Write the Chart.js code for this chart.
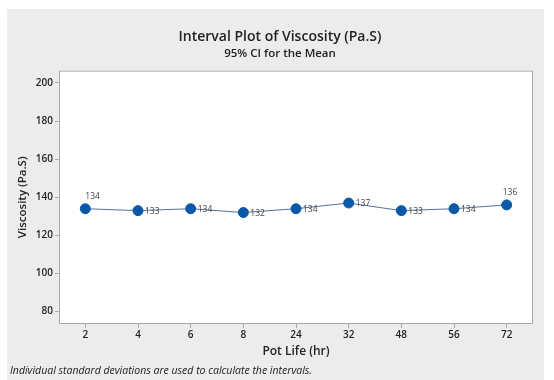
<body style="margin:0;background:#fff">
  <canvas id="c" width="554" height="380"></canvas>
  <script src="https://cdn.jsdelivr.net/npm/chart.js"></script>
  <script>
    const potLife = ['2', '4', '6', '8', '24', '32', '48', '56', '72'];
    const viscosity = [134, 133, 134, 132, 134, 137, 133, 134, 136];
    const yTicks = [80, 100, 120, 140, 160, 180, 200];

    const FONT = "'Open Sans', 'Noto Sans', sans-serif";

    const backdrop = {
      id: 'backdrop',
      beforeDraw(chart) {
        const { ctx, chartArea: a } = chart;
        ctx.save();
        ctx.fillStyle = '#fff';
        ctx.fillRect(0, 0, chart.width, chart.height);
        ctx.fillStyle = '#ececec';
        ctx.fillRect(7, 9, 537, 371);
        ctx.fillStyle = '#fff';
        ctx.fillRect(a.left, a.top, a.width, a.height);
        ctx.strokeStyle = '#a9a9a9';
        ctx.lineWidth = 1;
        ctx.strokeRect(a.left + 0.5, a.top + 0.5, a.width - 1, a.height - 1);
        ctx.restore();
      },
      afterDraw(chart) {
        const { ctx } = chart;
        ctx.save();
        ctx.font = `italic 10.5px ${FONT}`;
        ctx.fillStyle = '#222';
        ctx.textBaseline = 'middle';
        ctx.fillText('Individual standard deviations are used to calculate the intervals.', 10, 371);
        ctx.restore();
      }
    };

    // value labels: first and last sit above the point, the rest to the right
    const valueLabels = {
      id: 'valueLabels',
      afterDatasetsDraw(chart) {
        const { ctx } = chart;
        const pts = chart.getDatasetMeta(0).data;
        ctx.save();
        ctx.font = `8.5px ${FONT}`;
        ctx.fillStyle = '#444';
        ctx.textBaseline = 'middle';
        ctx.textAlign = 'left';
        pts.forEach((p, i) => {
          const txt = String(viscosity[i]);
          if (i === 0 || i === pts.length - 1)
            ctx.fillText(txt, p.x - (i === 0 ? 0 : 4), p.y - 12);
          else
            ctx.fillText(txt, p.x + 7, p.y + 1);
        });
        ctx.restore();
      }
    };

    new Chart(document.getElementById('c'), {
      type: 'line',
      data: {
        labels: potLife,
        datasets: [{
          data: viscosity,
          borderColor: '#52739a',
          borderWidth: 1,
          pointBackgroundColor: '#0b58a8',
          pointBorderColor: '#0b58a8',
          pointRadius: 5,
          tension: 0,
          fill: false,
        }]
      },
      plugins: [backdrop, valueLabels],
      options: {
        responsive: false,
        animation: false,
        layout: { padding: { top: 20, left: 27, right: 21, bottom: 18 } },
        plugins: {
          legend: { display: false },
          tooltip: { enabled: false },
          title: {
            display: true,
            text: 'Interval Plot of Viscosity (Pa.S)',
            color: '#222',
            font: { family: FONT, size: 14, weight: 600 },
            padding: { top: 9, bottom: 1 },
          },
          subtitle: {
            display: true,
            text: '95% CI for the Mean',
            color: '#222',
            font: { family: FONT, size: 11.5, weight: 600 },
            padding: { top: 0, bottom: 10 },
          },
        },
        scales: {
          x: {
            offset: true,
            afterFit: s => { s.height = 38; },
            grid: { drawOnChartArea: false, drawTicks: true, tickLength: 4, color: '#a9a9a9', offset: false },
            border: { display: false },
            ticks: { color: '#222', font: { family: FONT, size: 10, weight: 600 }, padding: 1 },
            title: {
              display: true,
              text: 'Pot Life (hr)',
              color: '#222',
              font: { family: FONT, size: 12, weight: 600 },
              padding: { top: 0, bottom: 3 },
            },
          },
          y: {
            min: 73.5,
            max: 206.5,
            afterFit: s => { s.width = 32; },
            afterBuildTicks: s => { s.ticks = yTicks.map(v => ({ value: v })); },
            grid: { drawOnChartArea: false, drawTicks: true, tickLength: 4, color: '#a9a9a9' },
            border: { display: false },
            ticks: { color: '#222', font: { family: FONT, size: 10, weight: 600 }, padding: 2, includeBounds: false },
            title: {
              display: true,
              text: 'Viscosity (Pa.S)',
              color: '#222',
              font: { family: FONT, size: 11.5, weight: 600 },
              padding: { top: -11.5, bottom: 0 },
            },
          },
        },
      },
    });
  </script>
</body>
